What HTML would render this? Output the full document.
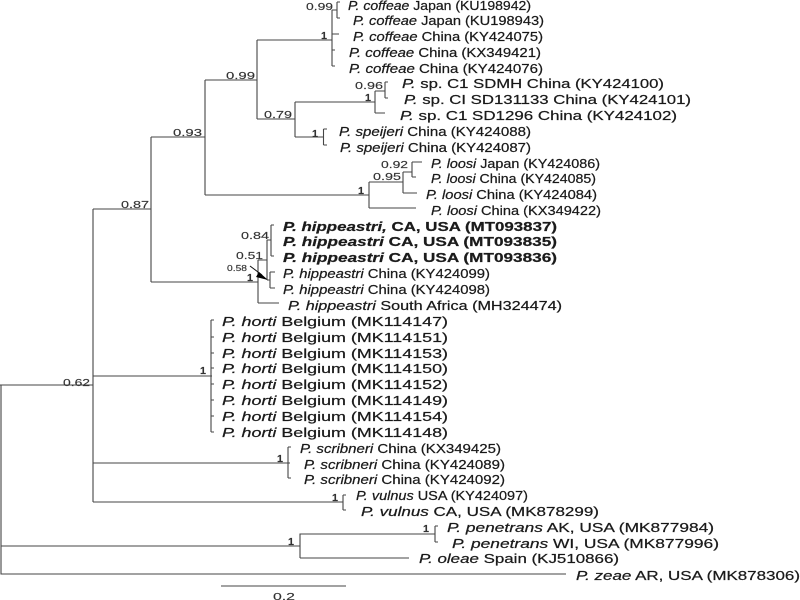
<!DOCTYPE html>
<html><head><meta charset="utf-8"><style>
html,body{margin:0;padding:0;background:#fff}
svg{display:block}
text{font-family:"Liberation Sans",sans-serif;fill:#1a1a1a;stroke:#1a1a1a;stroke-width:0.22px}
.l text{font-size:12.5px}
.s text{font-size:10.5px;fill:#333;stroke:#333;stroke-width:0.15px}
</style></head><body>
<svg width="800" height="600" viewBox="0 0 800 600" xmlns="http://www.w3.org/2000/svg">
<defs><filter id="b" x="0" y="0" width="100%" height="100%"><feGaussianBlur stdDeviation="0.35"/></filter></defs>
<g filter="url(#b)">
<path fill="none" stroke="#444" stroke-width="1.1" d="
M1 385V574H566 M0 385H93 M1 546H300 M300 558V534H435 M300 558H409 M435 526V542 M435 526H438 M435 542H438
M93 209V502 M93 209H151 M151 137V282 M151 137H205 M205 80V195 M205 80H257 M257 40V119 M257 40H332
M332 10V66 M332 10H337 M337 2V18 M337 2H340 M337 18H340 M332 34H339 M332 50H335 M332 66H335
M257 119H295 M295 102V137 M295 102H375 M375 91V113 M375 113H385 M375 91H385 M385 82V98 M385 82H388 M385 98H388
M295 137H323 M323.500 129V145 M323.500 129H327 M323.500 145H327
M205 195H369 M369 182V208 M369 208H416 M369 182H403 M403 172V193 M403 193H417 M403 172H412 M412 162V177 M412 162H422 M412 177H416
M151 282H258 M258 260V303 M258 303H279 M258 260H267 M267 240V280 M267 240H271 M271 225V256 M271 225H274 M271 256H274
M267 280H270 M270 272V288 M270 272H275 M270 288H275
M93 376H212 M211 320V432 M211 320H214 M211 337H214 M211 353H214 M211 368H214 M211 384H214 M211 400H214 M211 416H214 M211 432H214
M93 463H290 M288 447V478 M288 447H291 M288 478H291
M93 502H341 M343 495V510 M341 502H343 M343 495H346 M343 510H346
M221 586H346"/>
<path d="M250 266L262 275" stroke="#111" stroke-width="1"/>
<path d="M268 280L259 272L256 277Z" fill="#000"/>

<g class="l">
<text x="348" y="10" textLength="183" lengthAdjust="spacingAndGlyphs"><tspan font-style="italic">P. coffeae</tspan> Japan (KU198942)</text>
<text x="353" y="25" textLength="191" lengthAdjust="spacingAndGlyphs"><tspan font-style="italic">P. coffeae</tspan> Japan (KU198943)</text>
<text x="353" y="41" textLength="190" lengthAdjust="spacingAndGlyphs"><tspan font-style="italic">P. coffeae</tspan> China (KY424075)</text>
<text x="349" y="57" textLength="192" lengthAdjust="spacingAndGlyphs"><tspan font-style="italic">P. coffeae</tspan> China (KX349421)</text>
<text x="349" y="73" textLength="194" lengthAdjust="spacingAndGlyphs"><tspan font-style="italic">P. coffeae</tspan> China (KY424076)</text>
<text x="402" y="88" textLength="262" lengthAdjust="spacingAndGlyphs"><tspan font-style="italic">P.</tspan> sp. C1 SDMH China (KY424100)</text>
<text x="404" y="104" textLength="287" lengthAdjust="spacingAndGlyphs"><tspan font-style="italic">P.</tspan> sp. CI SD131133 China (KY424101)</text>
<text x="400" y="120" textLength="277" lengthAdjust="spacingAndGlyphs"><tspan font-style="italic">P.</tspan> sp. C1 SD1296 China (KY424102)</text>
<text x="339" y="136" textLength="192" lengthAdjust="spacingAndGlyphs"><tspan font-style="italic">P. speijeri</tspan> China (KY424088)</text>
<text x="340" y="152" textLength="191" lengthAdjust="spacingAndGlyphs"><tspan font-style="italic">P. speijeri</tspan> China (KY424087)</text>
<text x="431" y="168" textLength="169" lengthAdjust="spacingAndGlyphs"><tspan font-style="italic">P. loosi</tspan> Japan (KY424086)</text>
<text x="431" y="183" textLength="165" lengthAdjust="spacingAndGlyphs"><tspan font-style="italic">P. loosi</tspan> China (KY424085)</text>
<text x="426" y="199" textLength="171" lengthAdjust="spacingAndGlyphs"><tspan font-style="italic">P. loosi</tspan> China (KY424084)</text>
<text x="431" y="215" textLength="170" lengthAdjust="spacingAndGlyphs"><tspan font-style="italic">P. loosi</tspan> China (KX349422)</text>
<text x="283" y="231" textLength="274" lengthAdjust="spacingAndGlyphs" font-weight="bold"><tspan font-style="italic">P. hippeastri,</tspan> CA, USA (MT093837)</text>
<text x="283" y="246" textLength="274" lengthAdjust="spacingAndGlyphs" font-weight="bold"><tspan font-style="italic">P. hippeastri</tspan> CA, USA (MT093835)</text>
<text x="283" y="262" textLength="274" lengthAdjust="spacingAndGlyphs" font-weight="bold"><tspan font-style="italic">P. hippeastri</tspan> CA, USA (MT093836)</text>
<text x="283" y="278" textLength="207" lengthAdjust="spacingAndGlyphs"><tspan font-style="italic">P. hippeastri</tspan> China (KY424099)</text>
<text x="283" y="294" textLength="207" lengthAdjust="spacingAndGlyphs"><tspan font-style="italic">P. hippeastri</tspan> China (KY424098)</text>
<text x="288" y="310" textLength="274" lengthAdjust="spacingAndGlyphs"><tspan font-style="italic">P. hippeastri</tspan> South Africa (MH324474)</text>
<text x="222" y="326" textLength="226" lengthAdjust="spacingAndGlyphs"><tspan font-style="italic">P. horti</tspan> Belgium (MK114147)</text>
<text x="222" y="342" textLength="226" lengthAdjust="spacingAndGlyphs"><tspan font-style="italic">P. horti</tspan> Belgium (MK114151)</text>
<text x="222" y="358" textLength="226" lengthAdjust="spacingAndGlyphs"><tspan font-style="italic">P. horti</tspan> Belgium (MK114153)</text>
<text x="222" y="373" textLength="226" lengthAdjust="spacingAndGlyphs"><tspan font-style="italic">P. horti</tspan> Belgium (MK114150)</text>
<text x="222" y="389" textLength="226" lengthAdjust="spacingAndGlyphs"><tspan font-style="italic">P. horti</tspan> Belgium (MK114152)</text>
<text x="222" y="405" textLength="226" lengthAdjust="spacingAndGlyphs"><tspan font-style="italic">P. horti</tspan> Belgium (MK114149)</text>
<text x="222" y="421" textLength="226" lengthAdjust="spacingAndGlyphs"><tspan font-style="italic">P. horti</tspan> Belgium (MK114154)</text>
<text x="222" y="437" textLength="226" lengthAdjust="spacingAndGlyphs"><tspan font-style="italic">P. horti</tspan> Belgium (MK114148)</text>
<text x="300" y="453" textLength="201" lengthAdjust="spacingAndGlyphs"><tspan font-style="italic">P. scribneri</tspan> China (KX349425)</text>
<text x="304" y="469" textLength="201" lengthAdjust="spacingAndGlyphs"><tspan font-style="italic">P. scribneri</tspan> China (KY424089)</text>
<text x="304" y="484" textLength="201" lengthAdjust="spacingAndGlyphs"><tspan font-style="italic">P. scribneri</tspan> China (KY424092)</text>
<text x="356" y="500" textLength="172" lengthAdjust="spacingAndGlyphs"><tspan font-style="italic">P. vulnus</tspan> USA (KY424097)</text>
<text x="361" y="516" textLength="238" lengthAdjust="spacingAndGlyphs"><tspan font-style="italic">P. vulnus</tspan> CA, USA (MK878299)</text>
<text x="447" y="532" textLength="267" lengthAdjust="spacingAndGlyphs"><tspan font-style="italic">P. penetrans</tspan> AK, USA (MK877984)</text>
<text x="452" y="548" textLength="267" lengthAdjust="spacingAndGlyphs"><tspan font-style="italic">P. penetrans</tspan> WI, USA (MK877996)</text>
<text x="419" y="563" textLength="200" lengthAdjust="spacingAndGlyphs"><tspan font-style="italic">P. oleae</tspan> Spain (KJ510866)</text>
<text x="576" y="580" textLength="224" lengthAdjust="spacingAndGlyphs"><tspan font-style="italic">P. zeae</tspan> AR, USA (MK878306)</text>
</g>

<g class="s">
<text x="306" y="10" textLength="27" lengthAdjust="spacingAndGlyphs">0.99</text>
<text x="321" y="39" textLength="6" lengthAdjust="spacingAndGlyphs" font-weight="bold">1</text>
<text x="226" y="79" textLength="29" lengthAdjust="spacingAndGlyphs">0.99</text>
<text x="264" y="118" textLength="28" lengthAdjust="spacingAndGlyphs">0.79</text>
<text x="355" y="89" textLength="28" lengthAdjust="spacingAndGlyphs">0.96</text>
<text x="365" y="101" textLength="6" lengthAdjust="spacingAndGlyphs" font-weight="bold">1</text>
<text x="312" y="137" textLength="6" lengthAdjust="spacingAndGlyphs" font-weight="bold">1</text>
<text x="381" y="168" textLength="27" lengthAdjust="spacingAndGlyphs">0.92</text>
<text x="373" y="180" textLength="28" lengthAdjust="spacingAndGlyphs">0.95</text>
<text x="358" y="194" textLength="6" lengthAdjust="spacingAndGlyphs" font-weight="bold">1</text>
<text x="173" y="136" textLength="29" lengthAdjust="spacingAndGlyphs">0.93</text>
<text x="121" y="208" textLength="28" lengthAdjust="spacingAndGlyphs">0.87</text>
<text x="63" y="386" textLength="27" lengthAdjust="spacingAndGlyphs">0.62</text>
<text x="241" y="239" textLength="28" lengthAdjust="spacingAndGlyphs">0.84</text>
<text x="236" y="259" textLength="27" lengthAdjust="spacingAndGlyphs">0.51</text>
<text x="227" y="271" textLength="20" lengthAdjust="spacingAndGlyphs" style="font-size:8px">0.58</text>
<text x="247" y="281" textLength="6" lengthAdjust="spacingAndGlyphs" font-weight="bold">1</text>
<text x="200" y="374" textLength="6" lengthAdjust="spacingAndGlyphs" font-weight="bold">1</text>
<text x="277" y="462" textLength="6" lengthAdjust="spacingAndGlyphs" font-weight="bold">1</text>
<text x="332" y="501" textLength="6" lengthAdjust="spacingAndGlyphs" font-weight="bold">1</text>
<text x="423" y="532" textLength="6" lengthAdjust="spacingAndGlyphs" font-weight="bold">1</text>
<text x="288" y="545" textLength="6" lengthAdjust="spacingAndGlyphs" font-weight="bold">1</text>
<text x="273" y="600" textLength="22" lengthAdjust="spacingAndGlyphs">0.2</text>
</g>
</g>
</svg>
</body></html>
